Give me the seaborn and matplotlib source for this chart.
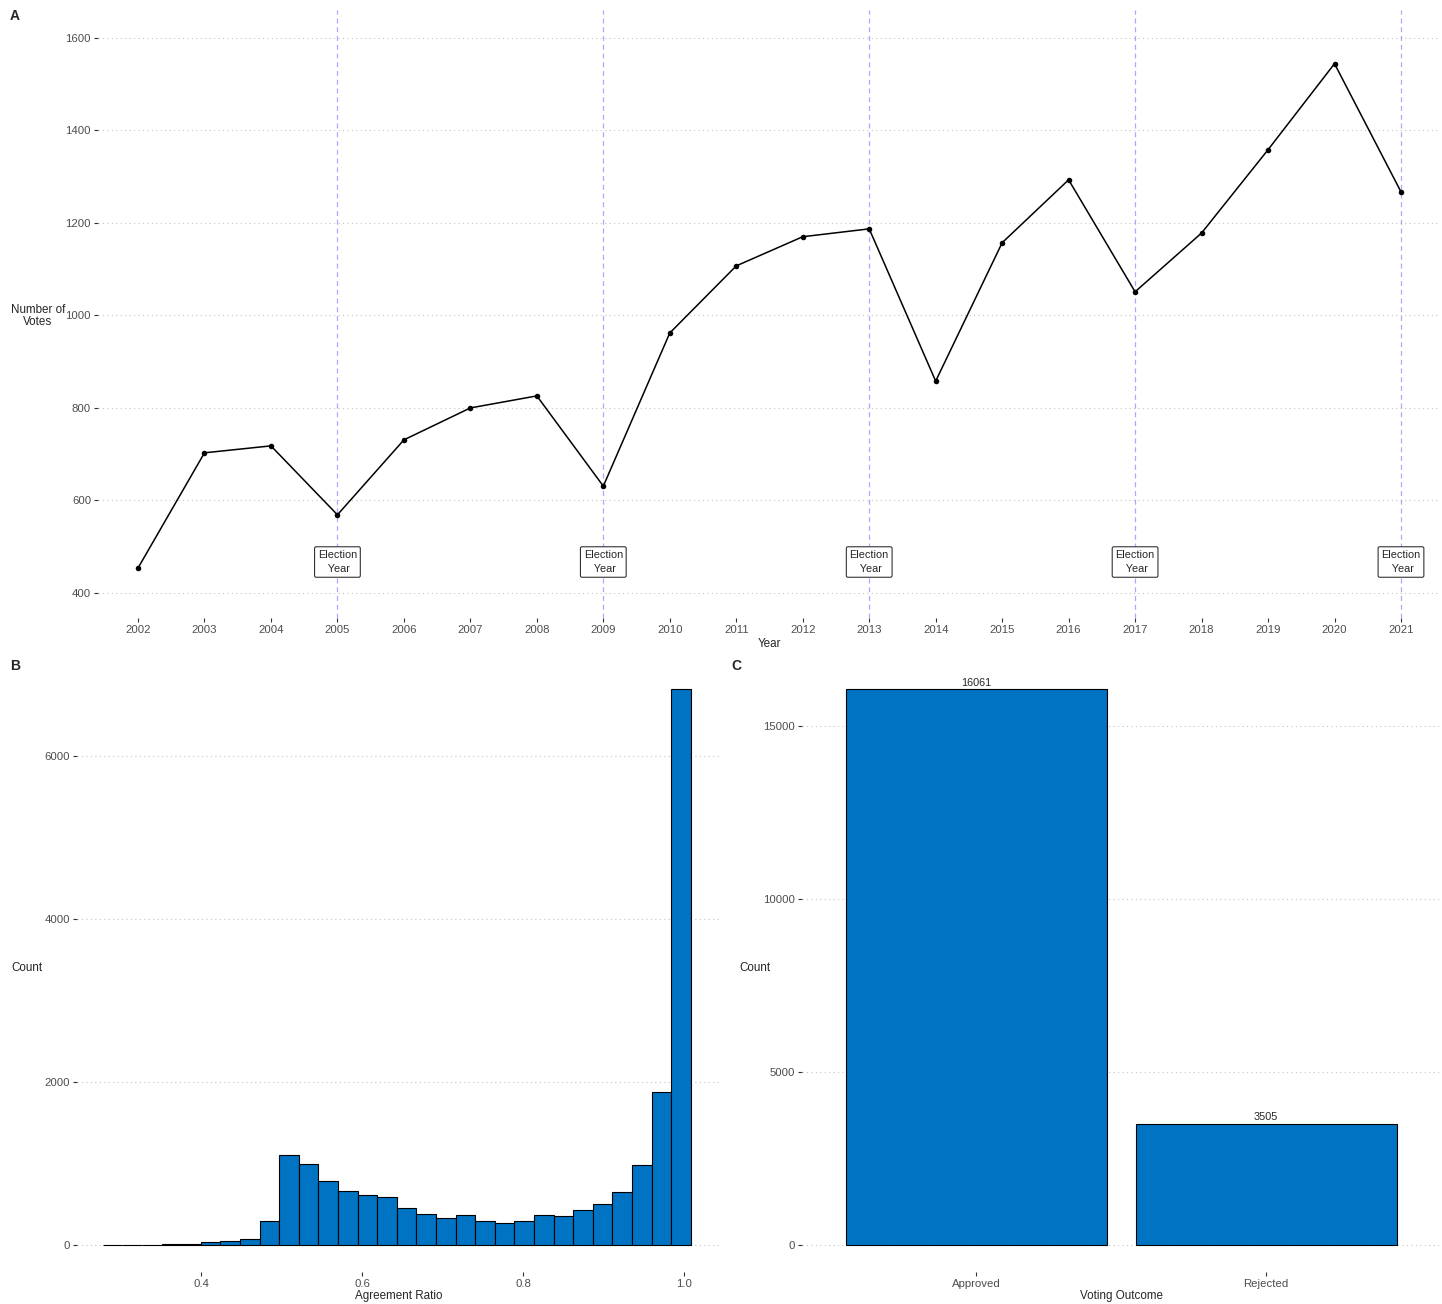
import numpy as np
import pandas as pd
import seaborn as sns
from matplotlib import pyplot as plt

# Data
years = list(range(2002, 2022))
votes = [454, 703, 718, 569, 731, 800, 826, 631, 962, 1107,
         1170, 1187, 858, 1157, 1293, 1051, 1178, 1358, 1544, 1267]
election_years = [2005, 2009, 2013, 2017, 2021]

# histogram of agreement ratio: 30 bins, counts per bin
ratio_min = 0.278
ratio_max = 1.0085
ratio_counts = [2, 3, 5, 8, 15, 33, 45, 78, 294, 1108,
                994, 789, 663, 618, 589, 454, 380, 331, 364, 290,
                270, 294, 368, 356, 425, 507, 650, 977, 1877, 6822]

outcomes = ["Approved", "Rejected"]
outcome_counts = [16061, 3505]

BLUE = "#0073C2"
TICK_COL = "#4d4d4d"
GRID_COL = "#c4c4c4"
TICK_SIZE = 8.2
TITLE_SIZE = 8.4

sns.set_style("white")
plt.rcParams["font.family"] = ["Liberation Sans", "DejaVu Sans"]

W, H = 1442, 1304
fig = plt.figure(figsize=(W / 100, H / 100), dpi=100)


def px_axes(left, top, right, bottom):
    return fig.add_axes([left / W, 1 - bottom / H, (right - left) / W, (bottom - top) / H])


def style(ax):
    for s in ax.spines.values():
        s.set_visible(False)
    ax.tick_params(axis="both", length=3, width=0.8, color="#333333",
                   labelsize=TICK_SIZE, labelcolor=TICK_COL, pad=2, direction="out",
                   bottom=True, left=True)
    ax.yaxis.grid(True, linestyle=(0, (1, 3)), color=GRID_COL, linewidth=0.8)
    ax.xaxis.grid(False)
    ax.set_axisbelow(True)


# ---- A: votes per year
ax_a = px_axes(98, 10, 1440, 618)
style(ax_a)
for yr in election_years:
    ax_a.axvline(yr, color="#7070ff", alpha=0.6, linestyle=(0, (4, 3)), linewidth=0.9,
                 zorder=1)
    ax_a.text(yr, 467, "Election\n Year", ha="center", va="center", fontsize=7.8,
              linespacing=1.5,
              bbox=dict(boxstyle="round,pad=0.3,rounding_size=0.15", fc="white",
                        ec="#333333", lw=0.8), zorder=4)
df_a = pd.DataFrame({"Year": years, "Votes": votes})
sns.lineplot(data=df_a, x="Year", y="Votes", ax=ax_a, color="black", linewidth=1.1,
             marker="o", markersize=4, markeredgewidth=0, zorder=3)
ax_a.set_xlim(2001.398, 2021.587)
ax_a.set_ylim(346, 1660)
ax_a.set_xticks(years)
ax_a.set_yticks([400, 600, 800, 1000, 1200, 1400, 1600])
ax_a.set_xlabel("Year", fontsize=TITLE_SIZE, va="center")
ax_a.xaxis.set_label_coords(0.5, -0.0428)
ax_a.set_ylabel("Number of\nVotes", fontsize=TITLE_SIZE, rotation=0, ha="center",
                va="center", linespacing=1.0)
ax_a.yaxis.set_label_coords(-0.0447, 0.497)

# ---- B: agreement ratio histogram
ax_b = px_axes(77, 661, 720, 1272)
style(ax_b)
edges = np.linspace(ratio_min, ratio_max, len(ratio_counts) + 1)
centers = (edges[:-1] + edges[1:]) / 2
df_b = pd.DataFrame({"ratio": centers, "n": ratio_counts})
sns.histplot(data=df_b, x="ratio", weights="n", bins=edges.tolist(), ax=ax_b,
             color=BLUE, alpha=1, edgecolor="black", linewidth=0.8)
ax_b.set_xlim(0.246, 1.0447)
ax_b.set_ylim(-331, 7163)
ax_b.set_xticks([0.4, 0.6, 0.8, 1.0])
ax_b.set_xticklabels(["0.4", "0.6", "0.8", "1.0"])
ax_b.set_yticks([0, 2000, 4000, 6000])
ax_b.set_xlabel("Agreement Ratio", fontsize=TITLE_SIZE, va="center")
ax_b.xaxis.set_label_coords(0.5, -0.0393)
ax_b.set_ylabel("Count", fontsize=TITLE_SIZE, rotation=0, ha="center", va="center")
ax_b.yaxis.set_label_coords(-0.0778, 0.4975)

# ---- C: voting outcome
ax_c = px_axes(802, 661, 1440, 1272)
style(ax_c)
df_c = pd.DataFrame({"outcome": outcomes, "n": outcome_counts})
sns.barplot(data=df_c, x="outcome", y="n", ax=ax_c, color=BLUE, saturation=1,
            width=0.9, edgecolor="black", linewidth=0.8)
for i, n in enumerate(outcome_counts):
    ax_c.text(i, n + 40, str(n), ha="center", va="bottom", fontsize=7.8)
ax_c.set_xlim(-0.6, 1.6)
ax_c.set_ylim(-780, 16879)
ax_c.set_yticks([0, 5000, 10000, 15000])
ax_c.set_xlabel("Voting Outcome", fontsize=TITLE_SIZE, va="center")
ax_c.xaxis.set_label_coords(0.501, -0.0393)
ax_c.set_ylabel("Count", fontsize=TITLE_SIZE, rotation=0, ha="center", va="center")
ax_c.yaxis.set_label_coords(-0.0737, 0.4975)

# panel tags
for tag, x, y in [("A", 15, 16), ("B", 15, 666), ("C", 736, 666)]:
    fig.text(x / W, 1 - y / H, tag, fontsize=10, fontweight="bold", ha="center", va="center")

fig.savefig("out.png", dpi=100, facecolor="white")
